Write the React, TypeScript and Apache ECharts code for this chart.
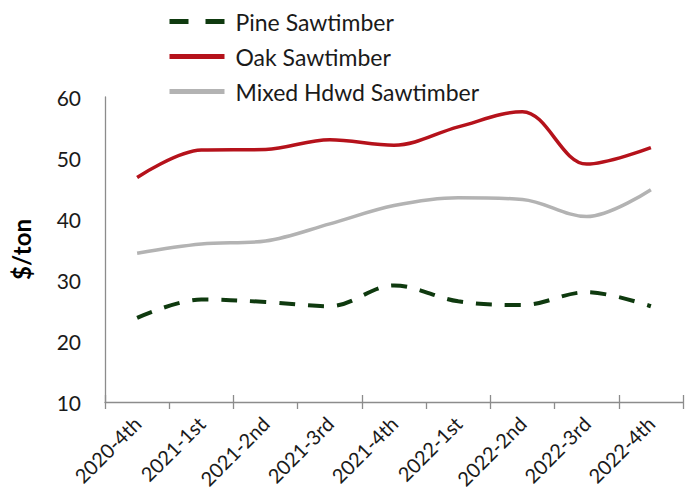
import React, { useEffect, useRef } from "react";
import * as echarts from "echarts";

const categories = ["2020-4th", "2021-1st", "2021-2nd", "2021-3rd", "2021-4th", "2022-1st", "2022-2nd", "2022-3rd", "2022-4th"];
const pine = [23.8, 26.8, 26.4, 25.7, 29.1, 26.5, 25.9, 28.0, 25.7];
const oak = [46.8, 51.3, 51.4, 53.0, 52.1, 55.1, 57.6, 49.0, 51.7];
const mixed = [34.4, 35.9, 36.4, 39.2, 42.2, 43.5, 43.2, 40.4, 44.8];
const yTicks = { min: 10, max: 60, interval: 10 };

const FONT = "Lato";

export default function App() {
  const ref = useRef<HTMLDivElement>(null);
  useEffect(() => {
    if (!ref.current) return;
    const chart = echarts.init(ref.current, undefined, { renderer: "svg" });
    const axisColor = "#8c8c8c";
    chart.setOption({
      animation: false,
      backgroundColor: "#ffffff",
      textStyle: { fontFamily: FONT },
      legend: {
        orient: "vertical",
        left: 167,
        top: 10,
        padding: 0,
        itemWidth: 55,
        itemHeight: 14,
        itemGap: 12,
        itemStyle: { opacity: 0 },
        lineStyle: { width: 5 },
        textStyle: { fontFamily: FONT, fontSize: 23, color: "#1a1a1a", padding: [0, 0, 0, 6] },
        data: [
          { name: "Pine Sawtimber", lineStyle: { width: 5, type: [19, 17] } },
          "Oak Sawtimber",
          "Mixed Hdwd Sawtimber",
        ],
      },
      grid: { left: 105, right: 4, top: 97, bottom: 100, containLabel: false },
      xAxis: [
        {
          type: "category",
          data: categories,
          boundaryGap: true,
          axisLine: { lineStyle: { color: axisColor, width: 1.3 } },
          axisTick: { show: true, length: 7, lineStyle: { color: axisColor, width: 1.3 } },
          axisLabel: { rotate: 45, fontSize: 20, color: "#1a1a1a", fontFamily: FONT, margin: 18, interval: 0 },
        },
        {
          type: "category",
          data: categories,
          position: "bottom",
          boundaryGap: true,
          axisLine: { show: false },
          axisTick: { show: true, inside: true, length: 7, lineStyle: { color: axisColor, width: 1.3 } },
          axisLabel: { show: false },
        },
      ],
      yAxis: {
        type: "value",
        min: yTicks.min,
        max: yTicks.max,
        interval: yTicks.interval,
        name: "$/ton",
        nameLocation: "middle",
        nameGap: 72,
        nameTextStyle: { fontFamily: FONT, fontSize: 24, fontWeight: "bold", color: "#000" },
        axisLine: { show: true, lineStyle: { color: axisColor, width: 1.3 } },
        axisTick: { show: false },
        splitLine: { show: false },
        axisLabel: { fontSize: 21, color: "#1a1a1a", fontFamily: FONT, margin: 24 },
      },
      series: [
        {
          name: "Pine Sawtimber",
          type: "line",
          data: pine,
          smooth: 0.35,
          symbol: "none",
          lineStyle: { color: "#0f3a0f", width: 4, type: [16, 13] },
          itemStyle: { color: "#0f3a0f" },
        },
        {
          name: "Oak Sawtimber",
          type: "line",
          data: oak,
          smooth: 0.35,
          symbol: "none",
          lineStyle: { color: "#b5121b", width: 3.5 },
          itemStyle: { color: "#b5121b" },
        },
        {
          name: "Mixed Hdwd Sawtimber",
          type: "line",
          data: mixed,
          smooth: 0.35,
          symbol: "none",
          lineStyle: { color: "#b3b3b3", width: 3.5 },
          itemStyle: { color: "#b3b3b3" },
        },
      ],
    });
    return () => chart.dispose();
  }, []);
  return <div ref={ref} style={{ width: 687, height: 502, position: "absolute", left: 0, top: 0 }} />;
}
